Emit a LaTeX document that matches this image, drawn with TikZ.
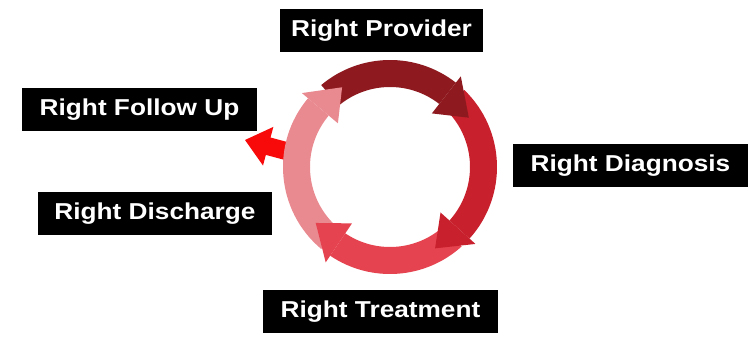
\documentclass[tikz,border=0pt]{standalone}
\usepackage{fontspec}
\setmainfont{Liberation Sans}
\definecolor{ringdark}{HTML}{8E1A1F}
\definecolor{ringred}{HTML}{C8202C}
\definecolor{ringrose}{HTML}{E5434F}
\definecolor{ringpink}{HTML}{E98A90}
\definecolor{exitred}{HTML}{F80A0A}

\begin{document}
\begin{tikzpicture}[x=1pt, y=1pt,
    tag/.style={fill=black, text=white, font=\fontsize{23}{23}\selectfont\bfseries,
        xscale=1.14, minimum width=206, minimum height=43, inner sep=0pt,
        text height=16.5pt, text depth=4.8pt}]
    \useasboundingbox (0,0) rectangle (756,340);
    \coordinate (c) at (390,173);

    % Pfeil nach aussen (Follow Up)
    \fill[exitred, shift={(245,200)}, rotate=165] (0,0) -- (-24,20) -- (-24,9) -- (-48,9)
        -- (-48,-9) -- (-24,-9) -- (-24,-20) -- cycle;

    % Ringbaender
    \fill[ringdark] ([shift={(c)}]130:107) arc[start angle=130, end angle=52, radius=107]
        -- ([shift={(c)}]52:80) arc[start angle=52, end angle=130, radius=80] -- cycle;
    \fill[ringred] ([shift={(c)}]46:107) arc[start angle=46, end angle=-42, radius=107]
        -- ([shift={(c)}]-42:80) arc[start angle=-42, end angle=46, radius=80] -- cycle;
    \fill[ringrose] ([shift={(c)}]-48:107) arc[start angle=-48, end angle=-124, radius=107]
        -- ([shift={(c)}]-124:80) arc[start angle=-124, end angle=-48, radius=80] -- cycle;
    \fill[ringpink] ([shift={(c)}]-130:107) arc[start angle=-130, end angle=-220, radius=107]
        -- ([shift={(c)}]-220:80) arc[start angle=-220, end angle=-130, radius=80] -- cycle;

    % Pfeilspitzen
    \fill[ringdark] ([shift={(c)}]52:68) -- ([shift={(c)}]52:115) -- ([shift={(c)}]32:93) -- cycle;
    \fill[ringred] ([shift={(c)}]-42:68) -- ([shift={(c)}]-42:115) -- ([shift={(c)}]-61:93) -- cycle;
    \fill[ringrose] ([shift={(c)}]-124:68) -- ([shift={(c)}]-124:115) -- ([shift={(c)}]-143:93) -- cycle;
    \fill[ringpink] ([shift={(c)}]-220:68) -- ([shift={(c)}]-220:115) -- ([shift={(c)}]-239:93) -- cycle;

    % Beschriftungen
    \node[tag, minimum width=178] (prov) at (381.5,309.5) {Right Provider};
    \node[tag] (diag) at (630.5,174) {Right Diagnosis};
    \node[tag] (treat) at (380.5,28.5) {Right Treatment};
    \node[tag] (disch) at (155,126) {Right Discharge};
    \node[tag] (follow) at (139.5,230) {Right Follow Up};
\end{tikzpicture}
\end{document}
